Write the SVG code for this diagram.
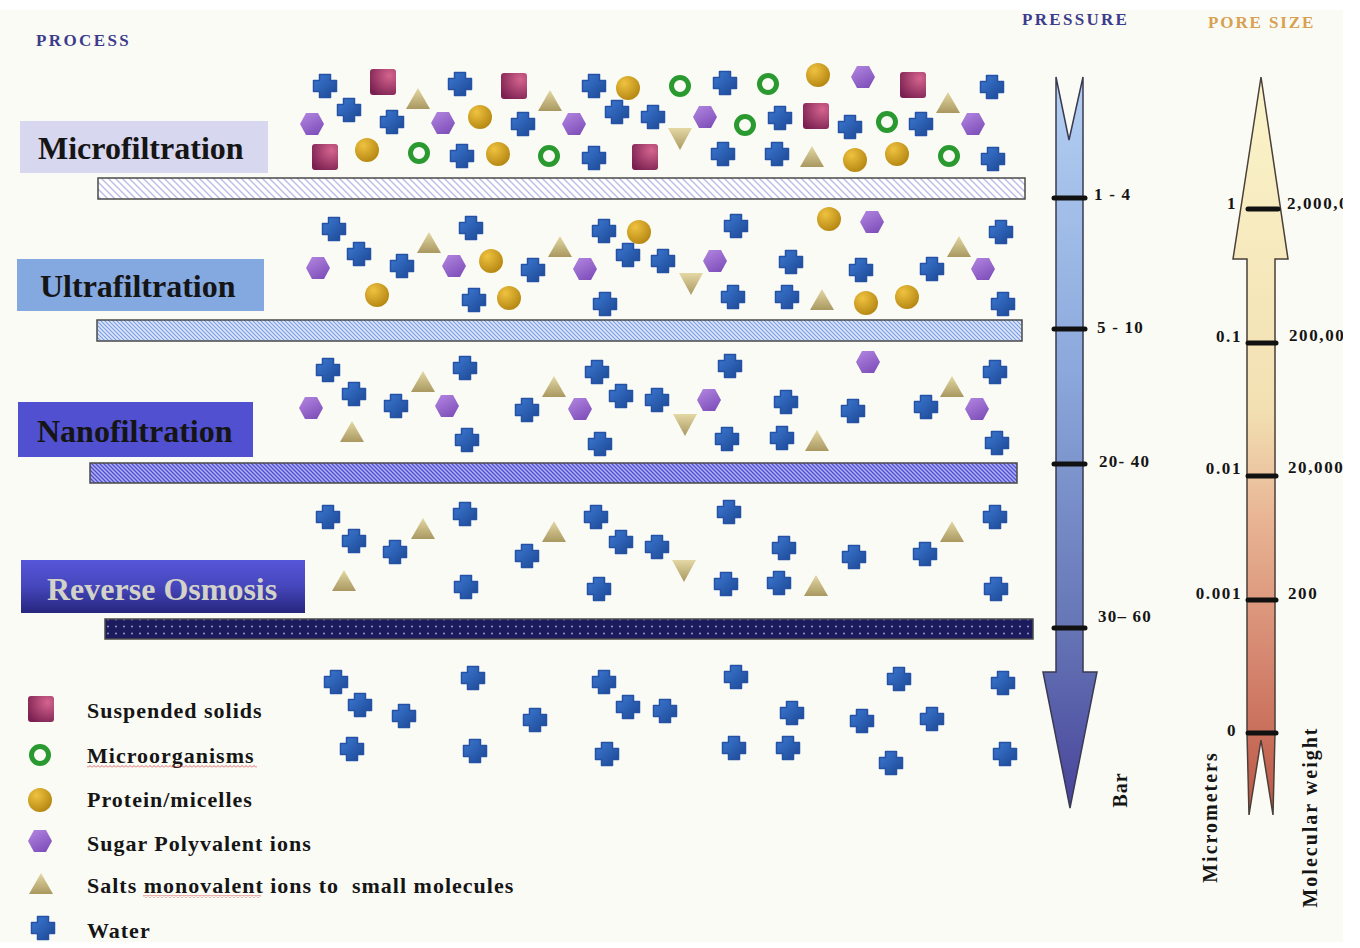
<svg xmlns="http://www.w3.org/2000/svg" xmlns:xlink="http://www.w3.org/1999/xlink" width="1360" height="948" viewBox="0 0 1360 948">
<style>
.t{font-family:"Liberation Serif","Times New Roman",serif;font-weight:bold;fill:#151515}
.hdr{font-size:17px}
.proc{font-size:32px}
.leg{font-size:22px;letter-spacing:1px;white-space:pre}
.val{font-size:17px;letter-spacing:1.2px}
.pv{font-size:17px;letter-spacing:1.6px}
.rot{font-size:20px;letter-spacing:2px}
.mem{stroke:#4a4a4a;stroke-width:1.5}
.tick{stroke:#111;stroke-width:5;stroke-linecap:round}
</style>
<defs>
<linearGradient id="gCross" x1="0" y1="0" x2="1" y2="1"><stop offset="0" stop-color="#3c7ad4"/><stop offset="1" stop-color="#1c4692"/></linearGradient>
<radialGradient id="gSq" cx="0.75" cy="0.25" r="0.9"><stop offset="0" stop-color="#d4648e"/><stop offset="1" stop-color="#7a2050"/></radialGradient>
<radialGradient id="gGold" cx="0.35" cy="0.3" r="0.8"><stop offset="0" stop-color="#efc240"/><stop offset="1" stop-color="#b0820e"/></radialGradient>
<linearGradient id="gHex" x1="0" y1="0" x2="0.6" y2="1"><stop offset="0" stop-color="#b487e2"/><stop offset="1" stop-color="#8152bb"/></linearGradient>
<linearGradient id="gTri" x1="0" y1="0" x2="0" y2="1"><stop offset="0" stop-color="#e4d8a4"/><stop offset="1" stop-color="#a99860"/></linearGradient>
<linearGradient id="gPress" gradientUnits="userSpaceOnUse" x1="0" y1="77" x2="0" y2="808"><stop offset="0" stop-color="#b4d0f2"/><stop offset="0.4" stop-color="#8ca8dc"/><stop offset="0.75" stop-color="#6676b6"/><stop offset="1" stop-color="#48449a"/></linearGradient>
<linearGradient id="gPore" gradientUnits="userSpaceOnUse" x1="0" y1="77" x2="0" y2="815"><stop offset="0" stop-color="#fbf4ca"/><stop offset="0.45" stop-color="#f2e0b2"/><stop offset="0.6" stop-color="#e8b494"/><stop offset="0.8" stop-color="#d4846e"/><stop offset="1" stop-color="#bc5646"/></linearGradient>
<linearGradient id="gRO" x1="0" y1="0" x2="0" y2="1"><stop offset="0" stop-color="#5656da"/><stop offset="0.5" stop-color="#4646bc"/><stop offset="1" stop-color="#26267e"/></linearGradient>
<pattern id="pMF" patternUnits="userSpaceOnUse" width="7" height="7"><rect width="7" height="7" fill="#ffffff"/><path d="M-1.75,-1.75 L8.75,8.75 M-1.75,5.25 L1.75,8.75 M5.25,-1.75 L8.75,1.75" stroke="#bcbce8" stroke-width="1.4"/></pattern>
<pattern id="pUF" patternUnits="userSpaceOnUse" width="4" height="4"><rect width="4" height="4" fill="#dde7f9"/><path d="M-1,-1 L5,5 M-1,3 L1,5 M3,-1 L5,1" stroke="#7c9ee2" stroke-width="1.2"/></pattern>
<pattern id="pNF" patternUnits="userSpaceOnUse" width="4" height="4"><rect width="4" height="4" fill="#b2b2f4"/><path d="M-1,-1 L5,5 M-1,3 L1,5 M3,-1 L5,1" stroke="#4c4cd0" stroke-width="1.3"/></pattern>
<pattern id="pRO" patternUnits="userSpaceOnUse" width="8" height="7"><rect width="8" height="7" fill="#1b1b5e"/><circle cx="4" cy="3.5" r="0.9" fill="#a4a4cc"/></pattern>
<pattern id="pWave" patternUnits="userSpaceOnUse" width="4" height="3"><path d="M0,2.5 L2,0.5 L4,2.5" fill="none" stroke="#d04040" stroke-width="0.8"/></pattern>
<clipPath id="clipImg"><rect x="0" y="0" width="1343" height="948"/></clipPath>
<g id="cross"><path d="M-5.5,-11.5 h11 v6 h6 v11 h-6 v6 h-11 v-6 h-6 v-11 h6 z" fill="url(#gCross)" stroke="#2552a4" stroke-width="1.5" stroke-linejoin="round"/></g>
<g id="sq"><rect x="-13" y="-13" width="26" height="26" rx="3" fill="url(#gSq)"/></g>
<g id="gold"><circle r="12" fill="url(#gGold)"/></g>
<g id="ring"><circle r="8.5" fill="none" stroke="#2a9a30" stroke-width="5"/></g>
<g id="hex"><polygon points="-12,0 -6,-11 6,-11 12,0 6,11 -6,11" fill="url(#gHex)"/></g>
<g id="tri"><polygon points="0,-11 12,10 -12,10" fill="url(#gTri)"/></g>
<g id="itri"><polygon points="-12,-10 12,-10 0,12" fill="url(#gTri)"/></g>
</defs>

<rect x="0" y="0" width="1360" height="948" fill="#ffffff"/>
<rect x="0" y="10" width="1343" height="932" fill="#fbfbf6"/>

<g id="headers">
<text class="t hdr" x="36" y="46" style="fill:#3c3c8c;letter-spacing:2.4px">PROCESS</text>
<text class="t hdr" x="1022" y="25" style="fill:#3c3c8c;letter-spacing:2.3px">PRESSURE</text>
<text class="t hdr" x="1208" y="28" style="fill:#d8a050;letter-spacing:1.9px">PORE SIZE</text>
</g>

<g id="microfiltration">
<rect x="20" y="121" width="248" height="52" fill="#d7d7ef"/>
<text class="t proc" x="38" y="159">Microfiltration</text>
<rect class="mem" x="98" y="178" width="927" height="21" fill="url(#pMF)"/>
</g>
<g id="ultrafiltration">
<rect x="17" y="259" width="247" height="52" fill="#84a8e0"/>
<text class="t proc" x="40" y="297">Ultrafiltration</text>
<rect class="mem" x="97" y="320" width="925" height="21" fill="url(#pUF)"/>
</g>
<g id="nanofiltration">
<rect x="18" y="402" width="235" height="55" fill="#5050d0"/>
<text class="t proc" x="37" y="442">Nanofiltration</text>
<rect class="mem" x="90" y="463" width="927" height="20" fill="url(#pNF)"/>
</g>
<g id="reverse-osmosis">
<rect x="21" y="560" width="284" height="53" fill="url(#gRO)"/>
<text class="t proc" x="47" y="600" style="fill:#d2d2c8">Reverse Osmosis</text>
<rect class="mem" x="105" y="619" width="928" height="20" fill="url(#pRO)"/>
</g>

<g id="particles-mf">
<use href="#cross" x="325" y="86"/><use href="#cross" x="460" y="84"/><use href="#cross" x="594" y="86"/><use href="#cross" x="725" y="83"/><use href="#cross" x="992" y="87"/>
<use href="#cross" x="349" y="110"/><use href="#cross" x="392" y="122"/><use href="#cross" x="523" y="124"/><use href="#cross" x="617" y="112"/><use href="#cross" x="653" y="117"/><use href="#cross" x="780" y="118"/><use href="#cross" x="850" y="127"/><use href="#cross" x="921" y="124"/>
<use href="#cross" x="462" y="156"/><use href="#cross" x="594" y="158"/><use href="#cross" x="723" y="154"/><use href="#cross" x="777" y="154"/><use href="#cross" x="993" y="159"/>
<use href="#sq" x="383" y="82"/><use href="#sq" x="514" y="86"/><use href="#sq" x="913" y="85"/><use href="#sq" x="816" y="116"/><use href="#sq" x="325" y="157"/><use href="#sq" x="645" y="157"/>
<use href="#gold" x="628" y="88"/><use href="#gold" x="818" y="75"/><use href="#gold" x="480" y="117"/><use href="#gold" x="367" y="150"/><use href="#gold" x="498" y="154"/><use href="#gold" x="855" y="160"/><use href="#gold" x="897" y="154"/>
<use href="#ring" x="680" y="86"/><use href="#ring" x="768" y="84"/><use href="#ring" x="745" y="125"/><use href="#ring" x="887" y="122"/><use href="#ring" x="419" y="153"/><use href="#ring" x="549" y="156"/><use href="#ring" x="949" y="156"/>
<use href="#hex" x="863" y="77"/><use href="#hex" x="312" y="124"/><use href="#hex" x="443" y="123"/><use href="#hex" x="574" y="124"/><use href="#hex" x="705" y="117"/><use href="#hex" x="973" y="124"/>
<use href="#tri" x="418" y="99"/><use href="#tri" x="550" y="101"/><use href="#tri" x="948" y="103"/><use href="#tri" x="812" y="157"/>
<use href="#itri" x="680" y="138"/>
</g>

<g id="particles-uf">
<use href="#cross" x="334" y="229"/><use href="#cross" x="471" y="228"/><use href="#cross" x="359" y="254"/><use href="#cross" x="402" y="266"/><use href="#cross" x="533" y="270"/><use href="#cross" x="604" y="231"/><use href="#cross" x="628" y="255"/><use href="#cross" x="663" y="261"/><use href="#cross" x="736" y="226"/><use href="#cross" x="791" y="262"/><use href="#cross" x="861" y="270"/><use href="#cross" x="932" y="269"/><use href="#cross" x="1001" y="232"/><use href="#cross" x="474" y="300"/><use href="#cross" x="605" y="304"/><use href="#cross" x="733" y="297"/><use href="#cross" x="787" y="297"/><use href="#cross" x="1003" y="304"/>
<use href="#hex" x="318" y="268"/><use href="#hex" x="454" y="266"/><use href="#hex" x="585" y="269"/><use href="#hex" x="715" y="261"/><use href="#hex" x="872" y="222"/><use href="#hex" x="983" y="269"/>
<use href="#gold" x="491" y="261"/><use href="#gold" x="639" y="232"/><use href="#gold" x="829" y="219"/><use href="#gold" x="377" y="295"/><use href="#gold" x="509" y="298"/><use href="#gold" x="866" y="303"/><use href="#gold" x="907" y="297"/>
<use href="#tri" x="429" y="243"/><use href="#tri" x="560" y="247"/><use href="#tri" x="959" y="247"/><use href="#tri" x="822" y="300"/>
<use href="#itri" x="691" y="283"/>
</g>

<g id="particles-nf">
<use href="#cross" x="328" y="370"/><use href="#cross" x="465" y="368"/><use href="#cross" x="354" y="394"/><use href="#cross" x="396" y="406"/><use href="#cross" x="467" y="440"/><use href="#cross" x="527" y="410"/><use href="#cross" x="597" y="372"/><use href="#cross" x="621" y="396"/><use href="#cross" x="657" y="400"/><use href="#cross" x="730" y="366"/><use href="#cross" x="786" y="402"/><use href="#cross" x="853" y="411"/><use href="#cross" x="926" y="407"/><use href="#cross" x="995" y="372"/><use href="#cross" x="600" y="444"/><use href="#cross" x="727" y="439"/><use href="#cross" x="782" y="438"/><use href="#cross" x="997" y="443"/>
<use href="#hex" x="311" y="408"/><use href="#hex" x="447" y="406"/><use href="#hex" x="580" y="409"/><use href="#hex" x="709" y="400"/><use href="#hex" x="868" y="362"/><use href="#hex" x="977" y="409"/>
<use href="#tri" x="423" y="382"/><use href="#tri" x="352" y="432"/><use href="#tri" x="554" y="387"/><use href="#tri" x="952" y="387"/><use href="#tri" x="817" y="441"/>
<use href="#itri" x="685" y="424"/>
</g>

<g id="particles-ro">
<use href="#cross" x="328" y="517"/><use href="#cross" x="465" y="514"/><use href="#cross" x="354" y="541"/><use href="#cross" x="395" y="552"/><use href="#cross" x="466" y="587"/><use href="#cross" x="527" y="556"/><use href="#cross" x="596" y="517"/><use href="#cross" x="621" y="542"/><use href="#cross" x="657" y="547"/><use href="#cross" x="729" y="512"/><use href="#cross" x="784" y="548"/><use href="#cross" x="854" y="557"/><use href="#cross" x="925" y="554"/><use href="#cross" x="995" y="517"/><use href="#cross" x="599" y="589"/><use href="#cross" x="726" y="584"/><use href="#cross" x="779" y="583"/><use href="#cross" x="996" y="589"/>
<use href="#tri" x="423" y="529"/><use href="#tri" x="344" y="581"/><use href="#tri" x="554" y="532"/><use href="#tri" x="952" y="532"/><use href="#tri" x="816" y="586"/>
<use href="#itri" x="684" y="570"/>
</g>

<g id="particles-permeate">
<use href="#cross" x="336" y="682"/><use href="#cross" x="360" y="705"/><use href="#cross" x="404" y="716"/><use href="#cross" x="352" y="749"/><use href="#cross" x="473" y="678"/><use href="#cross" x="475" y="751"/><use href="#cross" x="535" y="720"/><use href="#cross" x="604" y="682"/><use href="#cross" x="628" y="707"/><use href="#cross" x="665" y="711"/><use href="#cross" x="607" y="754"/><use href="#cross" x="736" y="677"/><use href="#cross" x="734" y="748"/><use href="#cross" x="788" y="748"/><use href="#cross" x="792" y="713"/><use href="#cross" x="862" y="721"/><use href="#cross" x="899" y="679"/><use href="#cross" x="932" y="719"/><use href="#cross" x="891" y="763"/><use href="#cross" x="1003" y="683"/><use href="#cross" x="1005" y="754"/>
</g>

<g id="pressure-scale">
<path d="M1056,77 L1069,140 L1083,77 L1083,672 L1097,672 L1070,808 L1043,672 L1056,672 Z" fill="url(#gPress)" stroke="#3a3a52" stroke-width="1.5" stroke-linejoin="miter"/>
<line class="tick" x1="1054" y1="198" x2="1085" y2="198"/>
<line class="tick" x1="1054" y1="329" x2="1085" y2="329"/>
<line class="tick" x1="1054" y1="464" x2="1085" y2="464"/>
<line class="tick" x1="1054" y1="628" x2="1085" y2="628"/>
<text class="t val" x="1094" y="200">1 - 4</text>
<text class="t val" x="1097" y="333">5 - 10</text>
<text class="t val" x="1099" y="467">20- 40</text>
<text class="t val" x="1098" y="622">30– 60</text>
<text class="t" font-size="20" letter-spacing="1" text-anchor="middle" transform="translate(1127,790) rotate(-90)">Bar</text>
</g>

<g id="pore-size-scale" clip-path="url(#clipImg)">
<path d="M1261,77 L1288,259 L1275,259 L1275,733 L1273,815 L1261,740 L1249,815 L1247,733 L1247,259 L1233,259 Z" fill="url(#gPore)" stroke="#4a4038" stroke-width="1.5" stroke-linejoin="miter"/>
<line class="tick" x1="1248" y1="209" x2="1278" y2="209"/>
<line class="tick" x1="1248" y1="343" x2="1276" y2="343"/>
<line class="tick" x1="1248" y1="476" x2="1276" y2="476"/>
<line class="tick" x1="1248" y1="600" x2="1276" y2="600"/>
<line class="tick" x1="1248" y1="733" x2="1276" y2="733"/>
<text class="t pv" x="1237" y="209" text-anchor="end">1</text>
<text class="t pv" x="1242" y="342" text-anchor="end">0.1</text>
<text class="t pv" x="1242" y="474" text-anchor="end">0.01</text>
<text class="t pv" x="1242" y="599" text-anchor="end">0.001</text>
<text class="t pv" x="1237" y="736" text-anchor="end">0</text>
<text class="t pv" x="1287" y="209">2,000,000</text>
<text class="t pv" x="1289" y="341">200,000</text>
<text class="t pv" x="1288" y="473">20,000</text>
<text class="t pv" x="1288" y="599">200</text>
<text class="t rot" text-anchor="middle" transform="translate(1217,817) rotate(-90)">Micrometers</text>
<text class="t rot" text-anchor="middle" transform="translate(1317,817) rotate(-90)">Molecular weight</text>
</g>

<g id="legend">
<use href="#sq" x="41" y="709"/>
<use href="#ring" x="40" y="755"/>
<use href="#gold" x="40" y="800"/>
<use href="#hex" x="40" y="841"/>
<use href="#tri" x="41" y="884"/>
<use href="#cross" x="43" y="928"/>
<text class="t leg" x="87" y="718">Suspended solids</text>
<text class="t leg" x="87" y="763">Microorganisms</text>
<rect x="87" y="765" width="170" height="3" fill="url(#pWave)"/>
<text class="t leg" x="87" y="807">Protein/micelles</text>
<text class="t leg" x="87" y="851">Sugar Polyvalent ions</text>
<text class="t leg" x="87" y="893" xml:space="preserve">Salts monovalent ions to  small molecules</text>
<rect x="143" y="895" width="118" height="3" fill="url(#pWave)"/>
<text class="t leg" x="87" y="938">Water</text>
</g>
</svg>
